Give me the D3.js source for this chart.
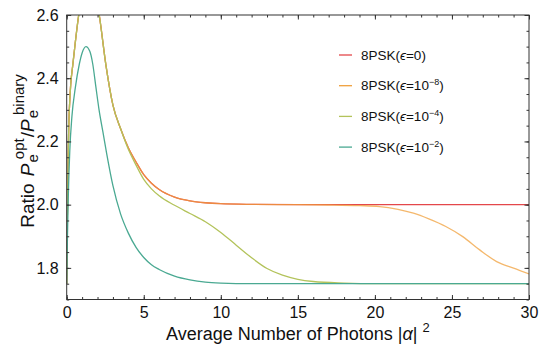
<!DOCTYPE html>
<html>
<head>
<meta charset="utf-8">
<script src="https://cdn.jsdelivr.net/npm/d3@7"></script>
<style>
  body { margin: 0; background: #fff; }
  text { font-family: "Liberation Sans", Arial, sans-serif; fill: #111; }
</style>
</head>
<body>
<div id="chart"></div>
<script>
// values
var xTicks = [0, 5, 10, 15, 20, 25, 30];
var yTicks = [1.8, 2.0, 2.2, 2.4, 2.6];

var redX = [0, 0.04, 0.08, 0.13, 0.18, 0.26, 0.39, 0.55, 0.78, 1.0, 1.25, 1.5, 1.8, 2.11, 2.55, 3.0, 3.5, 4.0, 4.5, 5.0, 5.5, 6.0, 7.0, 8.0, 9.0, 10, 12, 15, 20, 25, 30];
var redY = [1.75, 1.95, 2.10, 2.24, 2.31, 2.38, 2.44, 2.51, 2.60, 2.66, 2.70, 2.71, 2.68, 2.60, 2.44, 2.315, 2.24, 2.18, 2.135, 2.095, 2.068, 2.048, 2.024, 2.012, 2.006, 2.003, 2.001, 2.0, 2.0, 2.0, 2.0];

var orangeX = [0, 0.04, 0.08, 0.13, 0.18, 0.26, 0.39, 0.55, 0.78, 1.0, 1.25, 1.5, 1.8, 2.11, 2.55, 3.0, 3.5, 4.0, 4.5, 5.0, 5.5, 6.0, 7.0, 8.0, 9.0, 10, 12, 15, 17, 19, 20.3, 21.5, 22.5, 23.5, 24.6, 25.7, 26.8, 27.9, 29, 30];
var orangeY = [1.75, 1.95, 2.10, 2.24, 2.31, 2.38, 2.44, 2.51, 2.60, 2.66, 2.70, 2.71, 2.68, 2.60, 2.44, 2.315, 2.24, 2.18, 2.135, 2.095, 2.068, 2.048, 2.024, 2.012, 2.006, 2.003, 2.001, 2.0, 1.999, 1.997, 1.994, 1.985, 1.973, 1.955, 1.931, 1.899, 1.857, 1.82, 1.799, 1.781];

var greenX = [0, 0.04, 0.08, 0.13, 0.18, 0.26, 0.39, 0.55, 0.78, 1.0, 1.25, 1.5, 1.8, 2.11, 2.55, 3.0, 3.5, 4.0, 4.5, 5.0, 5.5, 6.0, 7.0, 8.0, 9.0, 10, 11, 12, 13, 14, 15, 16, 18, 20, 25, 30];
var greenY = [1.75, 1.95, 2.10, 2.24, 2.31, 2.38, 2.44, 2.51, 2.60, 2.66, 2.70, 2.71, 2.68, 2.60, 2.44, 2.315, 2.24, 2.175, 2.125, 2.08, 2.05, 2.028, 1.998, 1.972, 1.946, 1.912, 1.872, 1.832, 1.798, 1.777, 1.764, 1.757, 1.752, 1.75, 1.75, 1.75];

var tealX = [0, 0.05, 0.1, 0.2, 0.34, 0.56, 0.82, 1.0, 1.25, 1.5, 1.69, 1.9, 2.1, 2.35, 2.6, 3.0, 3.5, 4.0, 4.5, 5.0, 5.5, 6.0, 7.0, 8.0, 9.0, 10, 12, 20, 30];
var tealY = [1.75, 1.90, 2.02, 2.17, 2.28, 2.37, 2.445, 2.48, 2.50, 2.485, 2.445, 2.37, 2.30, 2.23, 2.16, 2.06, 1.97, 1.91, 1.865, 1.833, 1.81, 1.795, 1.774, 1.762, 1.755, 1.752, 1.75, 1.75, 1.75];

var seriesNames = ["eps0", "eps8", "eps4", "eps2"];
var seriesColors = ["#e4474b", "#f0a03c", "#b3c35b", "#4aa992"];
var legendExp = [null, "\u22128", "\u22124", "\u22122"];

var series = [
  { name: seriesNames[0], color: seriesColors[0], xs: redX, ys: redY },
  { name: seriesNames[1], color: seriesColors[1], xs: orangeX, ys: orangeY },
  { name: seriesNames[2], color: seriesColors[2], xs: greenX, ys: greenY },
  { name: seriesNames[3], color: seriesColors[3], xs: tealX, ys: tealY }
];

var W = 545, H = 349;
var padL = 66.7, padR = 529, padT = 15, padB = 299.5;

var svg = d3.select('#chart')
  .append('svg')
  .attr('width', W)
  .attr('height', H);

var xScale = d3.scaleLinear().domain([0, 30]).range([padL, padR]);
var yScale = d3.scaleLinear().domain([1.7, 2.6]).range([padB, padT]);

svg.append('clipPath').attr('id', 'plotClip')
  .append('rect')
  .attr('x', padL).attr('y', padT)
  .attr('width', padR - padL).attr('height', padB - padT);

// curves
var line = d3.line()
  .x(d => xScale(d[0]))
  .y(d => yScale(d[1]))
  .curve(d3.curveMonotoneX);

svg.append('g')
  .attr('clip-path', 'url(#plotClip)')
  .selectAll('path')
  .data(series)
  .enter().append('path')
  .attr('d', s => line(s.xs.map((x, i) => [x, s.ys[i]])))
  .attr('fill', 'none')
  .attr('stroke', s => s.color)
  .attr('stroke-width', 1.3)
  .attr('stroke-opacity', (s, i) => i == 1 ? 0.75 : 1);

// frame with inward ticks on all four sides
var xMinor = d3.range(0, 31, 1);
var yMinor = d3.range(1.7, 2.601, 0.05);

svg.append('g')
  .attr('transform', 'translate(0,' + padB + ')')
  .call(d3.axisBottom(xScale).tickValues(xMinor).tickSize(-2.5).tickFormat(''))
  .call(g => g.select('.domain').remove());
svg.append('g')
  .attr('transform', 'translate(0,' + padT + ')')
  .call(d3.axisTop(xScale).tickValues(xMinor).tickSize(-2.5).tickFormat(''))
  .call(g => g.select('.domain').remove());
svg.append('g')
  .attr('transform', 'translate(' + padL + ',0)')
  .call(d3.axisLeft(yScale).tickValues(yMinor).tickSize(-2.5).tickFormat(''))
  .call(g => g.select('.domain').remove());
svg.append('g')
  .attr('transform', 'translate(' + padR + ',0)')
  .call(d3.axisRight(yScale).tickValues(yMinor).tickSize(-2.5).tickFormat(''))
  .call(g => g.select('.domain').remove());

// major ticks with labels
svg.append('g')
  .attr('transform', 'translate(0,' + padB + ')')
  .call(d3.axisBottom(xScale).tickValues(xTicks).tickSize(-4.5).tickPadding(7).tickFormat(d3.format('d')))
  .call(g => g.select('.domain').remove())
  .selectAll('text').attr('font-size', '16px').attr('font-family', 'Liberation Sans, Arial, sans-serif');
svg.append('g')
  .attr('transform', 'translate(0,' + padT + ')')
  .call(d3.axisTop(xScale).tickValues(xTicks).tickSize(-4.5).tickFormat(''))
  .call(g => g.select('.domain').remove());
svg.append('g')
  .attr('transform', 'translate(' + padL + ',0)')
  .call(d3.axisLeft(yScale).tickValues(yTicks).tickSize(-4.5).tickPadding(8).tickFormat(d3.format('.1f')))
  .call(g => g.select('.domain').remove())
  .selectAll('text').attr('font-size', '16px').attr('font-family', 'Liberation Sans, Arial, sans-serif');
svg.append('g')
  .attr('transform', 'translate(' + padR + ',0)')
  .call(d3.axisRight(yScale).tickValues(yTicks).tickSize(-4.5).tickFormat(''))
  .call(g => g.select('.domain').remove());

svg.selectAll('.tick line').attr('stroke', '#333');

svg.append('rect')
  .attr('x', padL).attr('y', padT)
  .attr('width', padR - padL).attr('height', padB - padT)
  .attr('fill', 'none')
  .attr('stroke', '#333')
  .attr('stroke-width', 1);

// x-axis label
var xl = svg.append('text')
  .attr('x', (padL + padR) / 2)
  .attr('y', 340)
  .attr('text-anchor', 'middle')
  .attr('font-size', '18px');
xl.append('tspan').text('Average Number of Photons |');
xl.append('tspan').attr('font-style', 'italic').text('\u03b1');
xl.append('tspan').text('|');
xl.append('tspan').attr('dx', 5).attr('dy', -8).attr('font-size', '13px').text('2');

// y-axis label
var yl = svg.append('text')
  .attr('transform', 'translate(34,151) rotate(-90)')
  .attr('text-anchor', 'middle')
  .attr('font-size', '19px');
yl.append('tspan').text('Ratio ');
yl.append('tspan').attr('dx', 2).attr('font-style', 'italic').text('P');
yl.append('tspan').attr('dx', 1).attr('dy', 4).attr('font-size', '15px').text('e');
yl.append('tspan').attr('dx', -5).attr('dy', -14).attr('font-size', '15px').text('opt');
yl.append('tspan').attr('dx', 1).attr('dy', 10).text('/');
yl.append('tspan').attr('font-style', 'italic').text('P');
yl.append('tspan').attr('dx', 1).attr('dy', 4).attr('font-size', '15px').text('e');
yl.append('tspan').attr('dx', -5).attr('dy', -14).attr('font-size', '15px').text('binary');

// legend
var legend = svg.selectAll('.legend')
  .data(series)
  .enter().append('g')
  .attr('class', 'legend')
  .attr('transform', (d, i) => 'translate(339,' + (55 + i * 30.7) + ')');

legend.append('line')
  .attr('x1', 0).attr('x2', 13)
  .attr('stroke', d => d.color)
  .attr('stroke-width', 1.3);

legend.each(function (d, i) {
  var t = d3.select(this).append('text')
    .attr('x', 22).attr('y', 4.5)
    .attr('font-size', '13.5px');
  t.append('tspan').text('8PSK(');
  t.append('tspan').attr('font-style', 'italic').text('\u03f5');
  if (legendExp[i] == null) {
    t.append('tspan').text('=0)');
  } else {
    t.append('tspan').text('=10');
    t.append('tspan').attr('dy', -5).attr('font-size', '9px').text(legendExp[i]);
    t.append('tspan').attr('dy', 5).text(')');
  }
});
</script>
</body>
</html>
